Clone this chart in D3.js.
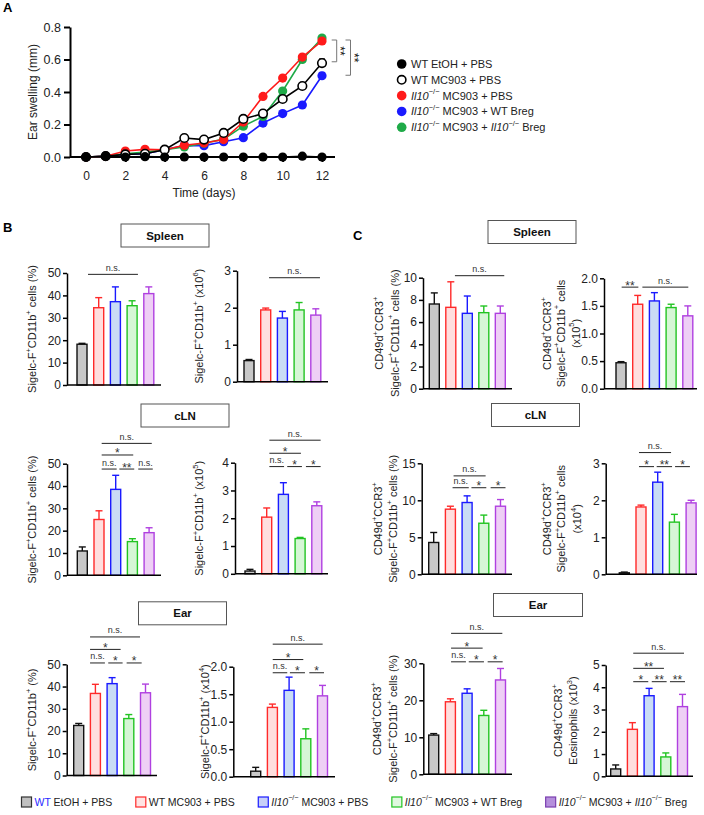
<!DOCTYPE html>
<html><head><meta charset="utf-8">
<script src="https://cdn.jsdelivr.net/npm/d3@7"></script>
<style>body{margin:0;background:#fff} svg{display:block;font-family:"Liberation Sans",Arial,sans-serif}</style>
</head><body><svg id="fig" width="704" height="815"></svg>
<script>
// ---------------- DATA ----------------
// Panel A: ear swelling (mm) by day
const days = [0,1,2,3,4,5,6,7,8,9,10,11,12];
const dayTicks = [0,2,4,6,8,10,12];
const swellTicks = [0,0.2,0.4,0.6,0.8];
const swellWtEtoh   = [0,0.005,0,0.002,0,0,0,0,0,0,0,0.005,0];
const swellWtMc903  = [0,0.005,0.016,0.02,0.045,0.117,0.107,0.148,0.234,0.267,0.357,0.437,0.578];
const swellKoPbs    = [0,0.005,0.037,0.047,0.045,0.072,0.086,0.107,0.215,0.373,0.486,0.615,0.714];
const swellKoWtBreg = [0,0.005,0.015,0.02,0.045,0.07,0.07,0.094,0.119,0.209,0.267,0.32,0.5];
const swellKoKoBreg = [0,0.005,0.02,0.03,0.045,0.062,0.085,0.11,0.19,0.25,0.406,0.6,0.732];
const errWtEtoh   = [0,0,0,0,0,0,0,0,0,0,0,0,0];
const errWtMc903  = [0,0,0.005,0.005,0.005,0.01,0.008,0.01,0.012,0.02,0.015,0.01,0.025];
const errKoPbs    = [0,0,0.005,0.005,0.005,0.005,0.005,0.005,0.01,0.01,0.01,0.01,0.012];
const errKoWtBreg = [0,0,0,0,0,0.005,0.005,0.005,0.005,0.01,0.01,0.01,0.02];
const errKoKoBreg = [0,0,0,0,0,0.005,0.005,0.005,0.005,0.01,0.01,0.01,0.012];
const legendA = ["WT EtOH + PBS","WT MC903 + PBS","[Il10]{−/−} MC903 + PBS","[Il10]{−/−} MC903 + WT Breg","[Il10]{−/−} MC903 + [Il10]{−/−} Breg"];
const sigA = [[0.586,0.72,"**"],[0.503,0.72,"**"]];

// Bar groups
const groups = ["<WT> EtOH + PBS","WT MC903 + PBS","[Il10]{−/−} MC903 + PBS","[Il10]{−/−} MC903 + WT Breg","[Il10]{−/−} MC903 + [Il10]{−/−} Breg"];

// Panel B
const bSpleenPct = [18.2,34.5,37.2,35.4,40.8],  bSpleenPctErr = [0.4,4.5,6.6,2.2,3.0];
const bSpleenNum = [0.57,1.94,1.72,1.94,1.80],  bSpleenNumErr = [0.03,0.05,0.18,0.2,0.17];
const bClnPct    = [10.9,25.0,38.5,15.1,19.1],  bClnPctErr    = [1.8,3.9,6.3,1.3,2.2];
const bClnNum    = [0.1,2.04,2.86,1.27,2.45],   bClnNumErr    = [0.06,0.33,0.42,0.04,0.14];
const bEarPct    = [22.5,36.9,41.3,25.6,37.2],  bEarPctErr    = [0.9,4.1,2.7,1.8,3.9];
const bEarNum    = [0.10,1.26,1.57,0.69,1.47],  bEarNumErr    = [0.07,0.06,0.24,0.18,0.19];
// Panel C
const cSpleenPct = [7.63,7.33,6.79,6.85,6.79],  cSpleenPctErr = [1.0,2.3,1.56,0.6,0.66];
const cSpleenNum = [0.47,1.53,1.59,1.47,1.32],  cSpleenNumErr = [0.02,0.16,0.15,0.06,0.18];
const cClnPct    = [4.3,8.8,9.7,6.9,9.2],       cClnPctErr    = [1.35,0.4,0.9,1.1,0.9];
const cClnNum    = [0.04,1.82,2.49,1.41,1.93],  cClnNumErr    = [0.02,0.05,0.27,0.21,0.07];
const cEarPct    = [10.6,19.6,21.9,15.9,25.5],  cEarPctErr    = [0.4,0.8,1.2,1.4,3.1];
const cEarNum    = [0.33,2.11,3.62,0.87,3.13],  cEarNumErr    = [0.18,0.3,0.33,0.18,0.55];

// Tick values
const ticks50 = [0,10,20,30,40,50], ticks3 = [0,1,2,3], ticks4 = [0,1,2,3,4], ticks2h = [0,0.5,1,1.5,2];
const ticks10 = [0,2,4,6,8,10], ticks15 = [0,5,10,15], ticks30 = [0,10,20,30], ticks5 = [0,1,2,3,4,5];

// Significance: [fromIndex, toIndex, heightValue, label]
const sigBSpleenPct = [[0.36,3.35,49.4,"n.s."]];
const sigBSpleenNum = [[1.2,4.25,2.81,"n.s."]];
const sigBClnPct = [[1.16,4.16,59.1,"n.s."],[1.16,3.05,53.9,"*"],[1.16,2.06,47.6,"n.s."],[2.22,3.11,47.6,"**"],[3.35,4.22,47.6,"n.s."]];
const sigBClnNum = [[1.16,4.23,4.81,"n.s."],[1.16,3.05,4.34,"*"],[1.16,2.04,3.86,"n.s."],[2.23,3.11,3.86,"*"],[3.35,4.23,3.86,"*"]];
const sigBEarPct = [[0.68,3.67,62.3,"n.s."],[0.68,2.51,56.7,"*"],[0.68,1.57,50.6,"n.s."],[1.77,2.63,50.6,"*"],[2.87,3.77,50.6,"*"]];
const sigBEarNum = [[1.02,4.01,2.41,"n.s."],[1.02,2.85,2.13,"*"],[1.02,1.89,1.89,"n.s."],[2.05,2.95,1.89,"*"],[3.21,4.09,1.89,"*"]];
const sigCSpleenPct = [[1.25,4.24,10.18,"n.s."]];
const sigCSpleenNum = [[0.04,1.04,1.84,"**"],[1.28,4.03,1.84,"n.s."]];
const sigCClnPct = [[1.19,3.11,13.3,"n.s."],[1.13,2.1,11.7,"n.s."],[2.26,3.15,11.7,"*"],[3.41,4.3,11.7,"*"]];
const sigCClnNum = [[0.88,2.8,3.29,"n.s."],[0.88,1.78,2.91,"*"],[1.94,2.86,2.91,"**"],[3.04,3.93,2.91,"*"]];
const sigCEarPct = [[1.04,4.11,38.1,"n.s."],[1.04,2.93,34.1,"*"],[1.04,1.93,30.4,"n.s."],[2.1,3.01,30.4,"*"],[3.23,4.13,30.4,"*"]];
const sigCEarNum = [[1.05,4.09,5.53,"n.s."],[1.05,2.89,4.85,"**"],[1.05,1.95,4.25,"*"],[2.16,3.05,4.25,"**"],[3.25,4.15,4.25,"**"]];

// ---------------- STYLE ----------------
const lineColors = ["#000","#000","#ff1a1a","#1a1aff","#1faa48"];
const barStroke = ["#111","#ff2a2a","#1a1aff","#22c422","#b040e0"];
const barFill   = ["#c8c8c8","#ffdede","#c9dcf5","#d6f6d6","#eecff5"];
const legFill   = ["#c0c0c0","#ffe4e4","#c8d0f8","#e0f8e0","#b58fdc"];
const legStroke = ["#333","#ff2a2a","#1a1aff","#22c422","#7b3fb0"];

const svg = d3.select("#fig");

function rich(sel, str, fs) {
  const parts = str.split(/(\{[^}]*\}|\[[^\]]*\]|<[^>]*>)/).filter(s => s.length);
  let shifted = false;
  parts.forEach(p => {
    const ts = sel.append("tspan");
    if (p[0] === "{") {
      ts.text(p.slice(1,-1)).attr("font-size", fs*0.68).attr("dy", shifted ? 0 : -fs*0.38);
      shifted = true;
    } else {
      let t = p;
      if (p[0] === "[") { t = p.slice(1,-1); ts.attr("font-style","italic"); }
      if (p[0] === "<") { t = p.slice(1,-1); ts.attr("fill","#2a2aff"); }
      ts.text(t).attr("dy", shifted ? fs*0.38 : 0);
      shifted = false;
    }
  });
}

function styleAxis(g, fs, sw) {
  g.attr("font-size", fs).attr("font-family", '"Liberation Sans",Arial,sans-serif');
  g.selectAll("path.domain").attr("stroke","#000").attr("stroke-width", sw);
  g.selectAll(".tick line").attr("stroke","#000").attr("stroke-width", sw);
  g.selectAll(".tick text").attr("fill","#222");
}

// Panel letters
[["A",3,12],["B",3,232],["C",353,240]].forEach(([t,x,y]) =>
  svg.append("text").attr("x",x).attr("y",y).attr("font-size",13).attr("font-weight","bold").text(t));

// ---------------- PANEL A ----------------
const xA = d3.scaleLinear().domain([0,12]).range([86,322]);
const yA = d3.scaleLinear().domain([0,0.8]).range([157,27]);
const gA = svg.append("g");
const gyA = gA.append("g").attr("transform","translate(70,0)")
  .call(d3.axisLeft(yA).tickValues(swellTicks).tickFormat(d3.format(".1f")).tickSize(6).tickSizeOuter(0).tickPadding(3));
styleAxis(gyA, 12.5, 2);
const gxA = gA.append("g").attr("transform","translate(0,157)")
  .call(d3.axisBottom(xA).tickValues(dayTicks).tickSize(5).tickPadding(9));
styleAxis(gxA, 12, 2);
gxA.select("path.domain").remove();
gA.append("line").attr("x1",70).attr("x2",335).attr("y1",yA(0)).attr("y2",yA(0)).attr("stroke","#000").attr("stroke-width",2);
gA.append("text").attr("x",204).attr("y",197).attr("text-anchor","middle").attr("font-size",12).attr("fill","#222").text("Time (days)");
gA.append("text").attr("transform","translate(33,92) rotate(-90)").attr("text-anchor","middle")
  .attr("dominant-baseline","central").attr("font-size",12).attr("fill","#222").text("Ear swelling (mm)");

const seriesA = [
  {v: swellKoWtBreg, e: errKoWtBreg, c: 3, open:false},
  {v: swellKoKoBreg, e: errKoKoBreg, c: 4, open:false},
  {v: swellKoPbs,    e: errKoPbs,    c: 2, open:false},
  {v: swellWtMc903,  e: errWtMc903,  c: 1, open:true},
  {v: swellWtEtoh,   e: errWtEtoh,   c: 0, open:false}
];
const lineA = d3.line().x((d,i) => xA(days[i])).y(d => yA(d));
seriesA.forEach(s => {
  const col = lineColors[s.c];
  const g = gA.append("g");
  g.append("path").attr("d", lineA(s.v)).attr("fill","none").attr("stroke",col).attr("stroke-width",1.6);
  s.v.forEach((v,i) => {
    if (s.e[i] > 0) {
      g.append("line").attr("x1",xA(days[i])).attr("x2",xA(days[i])).attr("y1",yA(v)).attr("y2",yA(v+s.e[i])).attr("stroke",col).attr("stroke-width",1.2);
      g.append("line").attr("x1",xA(days[i])-3).attr("x2",xA(days[i])+3).attr("y1",yA(v+s.e[i])).attr("y2",yA(v+s.e[i])).attr("stroke",col).attr("stroke-width",1.2);
    }
  });
  g.selectAll("circle").data(s.v).join("circle")
    .attr("cx",(d,i)=>xA(days[i])).attr("cy",d=>yA(d)).attr("r", s.open ? 4.3 : 4.6)
    .attr("fill", s.open ? "#fff" : col).attr("stroke", col).attr("stroke-width", s.open ? 1.6 : 0);
});
// significance brackets A
const bxA = [336.7, 350.5];
sigA.forEach(([lo,hi,lab],k) => {
  const x = bxA[k];
  gA.append("path").attr("d",`M${x-5},${yA(hi)}H${x}V${yA(lo)}H${x-5}`).attr("fill","none").attr("stroke","#777").attr("stroke-width",1);
  gA.append("text").attr("transform",`translate(${x-0.5},${(yA(hi)+yA(lo))/2}) rotate(90)`)
    .attr("text-anchor","middle").attr("font-size",12).attr("fill","#111").text(lab);
});
// legend A
const legAY = d3.scaleLinear().domain([0,4]).range([64,127.3]);
legendA.forEach((lab,i) => {
  const col = lineColors[i];
  gA.append("circle").attr("cx",401.7).attr("cy",legAY(i)).attr("r", i===1?4.2:4.8)
    .attr("fill", i===1 ? "#fff" : col).attr("stroke", col).attr("stroke-width", i===1?1.6:0);
  const t = gA.append("text").attr("x",411).attr("y",legAY(i)).attr("dominant-baseline","central").attr("font-size",11).attr("fill","#222");
  rich(t, lab, 11);
});

// ---------------- BAR CHARTS ----------------
function box(cx, cy, w, h, label) {
  svg.append("rect").attr("x",cx-w/2).attr("y",cy-h/2).attr("width",w).attr("height",h)
    .attr("fill","#fff").attr("stroke","#555").attr("stroke-width",1);
  svg.append("text").attr("x",cx).attr("y",cy).attr("text-anchor","middle").attr("dominant-baseline","central")
    .attr("font-size",11.5).attr("font-weight","bold").attr("fill","#111").text(label);
}

function barChart(L, values, errors, ticks, fmt, sigs, labels) {
  const g = svg.append("g");
  const maxT = ticks[ticks.length-1];
  const y = d3.scaleLinear().domain([0, maxT]).range([L.bot, L.top]);
  const x = d3.scaleLinear().domain([0, 1]).range([L.c0, L.c0 + L.step]);
  const bw = 10;
  g.selectAll("rect.bar").data(values).join("rect").attr("class","bar")
    .attr("x",(d,i)=>x(i)-bw/2).attr("width",bw)
    .attr("y",d=>y(d)).attr("height",d=>y(0)-y(d))
    .attr("fill",(d,i)=>barFill[i]).attr("stroke",(d,i)=>barStroke[i]).attr("stroke-width",1.4);
  values.forEach((v,i) => {
    const yt = y(v + errors[i]);
    g.append("line").attr("x1",x(i)).attr("x2",x(i)).attr("y1",y(v)).attr("y2",yt).attr("stroke",barStroke[i]).attr("stroke-width",1.4);
    g.append("line").attr("x1",x(i)-3.5).attr("x2",x(i)+3.5).attr("y1",yt).attr("y2",yt).attr("stroke",barStroke[i]).attr("stroke-width",1.4);
  });
  const gy = g.append("g").attr("transform",`translate(${L.ax},0)`)
    .call(d3.axisLeft(y).tickValues(ticks).tickFormat(fmt).tickSize(4).tickSizeOuter(0).tickPadding(2));
  styleAxis(gy, 12, 1.5);
  g.append("line").attr("x1",L.ax).attr("x2",L.xEnd).attr("y1",y(0)).attr("y2",y(0)).attr("stroke","#000").attr("stroke-width",1.5);
  sigs.forEach(([a,b,h,lab]) => {
    const yy = y(h);
    g.append("line").attr("x1",x(a)).attr("x2",x(b)).attr("y1",yy).attr("y2",yy).attr("stroke","#222").attr("stroke-width",1);
    const isNs = lab === "n.s.";
    g.append("text").attr("x",(x(a)+x(b))/2).attr("y", isNs ? yy-3.5 : yy+2.5).attr("text-anchor","middle")
      .attr("font-size", isNs ? 9 : 12).attr("fill","#333").text(lab);
  });
  const cy = (L.top + L.bot)/2;
  labels.forEach((lab,k) => {
    const t = g.append("text").attr("transform",`translate(${L.lx[k]},${cy}) rotate(-90)`)
      .attr("text-anchor","middle").attr("dominant-baseline","central").attr("font-size",11).attr("fill","#222");
    rich(t, lab, 11);
  });
}

const f0 = d3.format("d"), f1 = d3.format(".1f");
const S = 16.7;
const labPct = "Sigelc-F{+}CD11b{+} cells (%)";
const labC1 = "CD49d{+}CCR3{+}";

box(165, 235.5, 88, 23, "Spleen");
box(185, 415.5, 88, 23, "cLN");
box(182.5, 613.3, 88, 23, "Ear");
box(532, 232, 88, 23, "Spleen");
box(535.5, 415, 88, 23, "cLN");
box(538, 605, 89, 23, "Ear");

barChart({ax:67, top:273, bot:385, c0:82, step:S, xEnd:161, lx:[32]}, bSpleenPct, bSpleenPctErr, ticks50, f0, sigBSpleenPct, [labPct]);
barChart({ax:237, top:270.7, bot:381.7, c0:249, step:S, xEnd:328, lx:[199]}, bSpleenNum, bSpleenNumErr, ticks3, f0, sigBSpleenNum, ["Sigelc-F{+}CD11b{+} (x10{6})"]);
barChart({ax:67, top:463.7, bot:575.3, c0:82.3, step:S, xEnd:161, lx:[32]}, bClnPct, bClnPctErr, ticks50, f0, sigBClnPct, [labPct]);
barChart({ax:235, top:462.7, bot:573.8, c0:250, step:S, xEnd:328, lx:[199]}, bClnNum, bClnNumErr, ticks4, f0, sigBClnNum, ["Sigelc-F{+}CD11b{+} (x10{5})"]);
barChart({ax:66.7, top:664.3, bot:775.5, c0:78.7, step:S, xEnd:157, lx:[32]}, bEarPct, bEarPctErr, ticks50, f0, sigBEarPct, ["Sigelc-F{+}CD11b{+}  (%)"]);
barChart({ax:233.3, top:666.7, bot:776.7, c0:255.7, step:S, xEnd:335, lx:[205]}, bEarNum, bEarNumErr, ticks2h, f1, sigBEarNum, ["Sigelc-F{+}CD11b{+} (x10{4})"]);

barChart({ax:423, top:277.7, bot:388.7, c0:434.3, step:16.5, xEnd:512, lx:[379.3,394.5]}, cSpleenPct, cSpleenPctErr, ticks10, f0, sigCSpleenPct, [labC1, labPct]);
barChart({ax:604, top:278.3, bot:388.7, c0:621, step:S, xEnd:697, lx:[546.7,560.5,575.5]}, cSpleenNum, cSpleenNumErr, ticks2h, f1, sigCSpleenNum, [labC1, "Sigelc-F{+}CD11b{+} cells", "(x10{5})"]);
barChart({ax:421.7, top:463.3, bot:574.3, c0:433.7, step:S, xEnd:512, lx:[378,393]}, cClnPct, cClnPctErr, ticks15, f0, sigCClnPct, [labC1, labPct]);
barChart({ax:605.7, top:463.3, bot:574.3, c0:624.3, step:S, xEnd:697, lx:[547,561,577]}, cClnNum, cClnNumErr, ticks3, f0, sigCClnNum, [labC1, "Sigelc-F{+}CD11b{+} cells", "(x10{4})"]);
barChart({ax:423.3, top:663.3, bot:774.3, c0:433.7, step:S, xEnd:512, lx:[377.3,392.7]}, cEarPct, cEarPctErr, ticks30, f0, sigCEarPct, [labC1, labPct]);
barChart({ax:605.7, top:665, bot:776.3, c0:615.7, step:S, xEnd:693, lx:[558.3,573.3]}, cEarNum, cEarNumErr, ticks5, f0, sigCEarNum, [labC1, "Eosinophils (x10{3})"]);

// ---------------- BOTTOM LEGEND ----------------
const legY = 802, legX0 = 21.5, legX1 = 687, fsL = 10.5;
const items = groups.map((lab,i) => {
  const g = svg.append("g");
  g.append("rect").attr("y",legY-5).attr("width",10).attr("height",10)
    .attr("fill",legFill[i]).attr("stroke",legStroke[i]).attr("stroke-width",1.2);
  const t = g.append("text").attr("x",13).attr("y",legY).attr("dominant-baseline","central").attr("font-size",fsL).attr("fill","#222");
  rich(t, lab, fsL);
  return {g, w: 13 + t.node().getComputedTextLength()};
});
const totalW = d3.sum(items, d => d.w);
const gap = (legX1 - legX0 - totalW) / (items.length - 1);
let cx = legX0;
items.forEach(it => { it.g.attr("transform",`translate(${cx},0)`); cx += it.w + gap; });
</script></body></html>
